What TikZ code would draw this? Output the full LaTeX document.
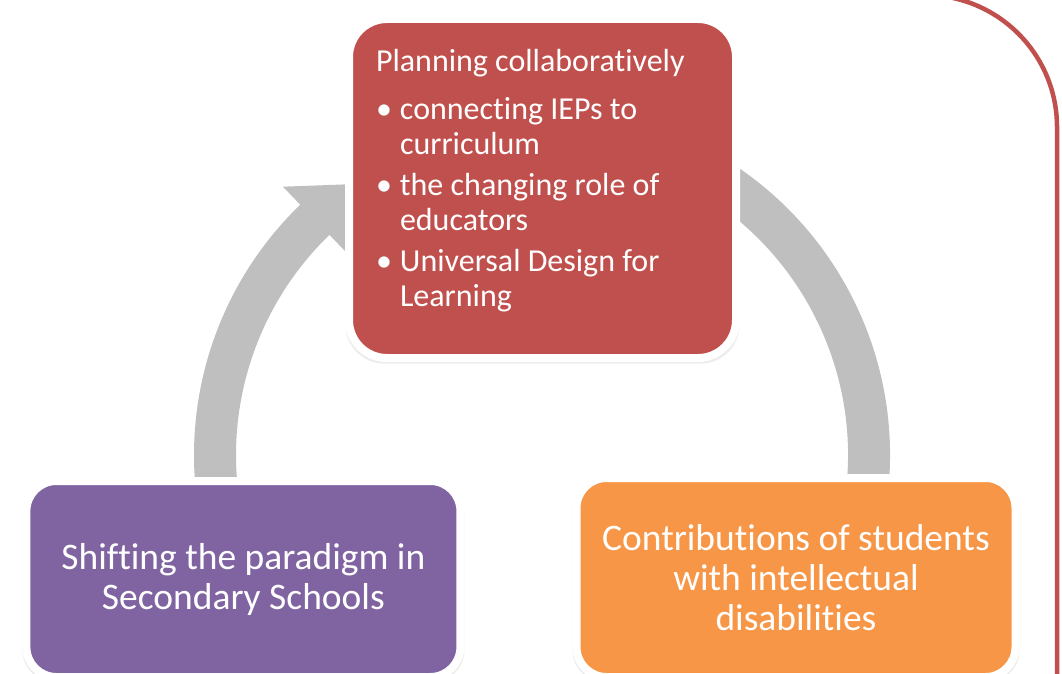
\documentclass[tikz,border=0pt]{standalone}
\usepackage{fontspec}
\setmainfont{Carlito}[Ligatures=NoCommon]
\usetikzlibrary{shadows}

\definecolor{planred}{HTML}{C0504D}
\definecolor{shiftpurple}{HTML}{8064A2}
\definecolor{contriborange}{HTML}{F79646}
\definecolor{cyclegray}{HTML}{BFBFBF}

% one bullet of the planning list, hanging under its first line
\newcommand{\planitem}[1]{\par\vspace{6pt}\hangindent=24pt\hangafter=1\noindent\makebox[24pt][l]{\textbullet}#1\par}

\begin{document}
\begin{tikzpicture}[
  x=1pt, y=1pt,
  stage/.style={draw=white, line width=8pt, text=white, inner sep=0pt,
                general shadow={fill=black, opacity=0.07, shadow scale=1.018, shadow yshift=-2.5pt},
                general shadow={fill=black, opacity=0.1, shadow scale=1.008, shadow xshift=1pt, shadow yshift=-2pt}},
  bigstage/.style={stage, rounded corners=30pt, align=center,
                   font=\fontsize{37.5}{40}\selectfont},
  cycle/.style={cyclegray, line width=42pt},
  frame/.style={planred, line width=4.5pt},
]
  \useasboundingbox (0,0) rectangle (1062,-674);
  \clip (0,0) rectangle (1062,-674);

  % outline of the surrounding frame
  \draw[frame, rounded corners=132pt] (860,5) -| (1057,-700);

  % circular arrow behind the stages
  \coordinate (hub) at (542,-455);
  \begin{scope}[shift={(hub)}]
    \fill[cyclegray] (188:306) arc[start angle=188, end angle=134, radius=306]
      -- (134:281) -- (124:327) -- (134:373) -- (134:348)
      arc[start angle=134, end angle=188, radius=348] -- cycle;
    \draw[cycle] (70:327) arc[start angle=70, end angle=-10, radius=327];
  \end{scope}

  % Top stage
  \node[stage, fill=planred, rounded corners=38pt, inner xsep=27pt, inner ysep=28pt,
        minimum width=387pt, minimum height=339pt,
        font=\fontsize{32}{35}\selectfont] (plan) at (542.5,-188.5)
    {\parbox[t][283pt][t]{333pt}{\raggedright\strut Planning collaboratively\par\vspace{7pt}
      \planitem{connecting IEPs to\newline curriculum}
      \planitem{the changing role of\newline educators}
      \planitem{Universal Design for\newline Learning}}};

  % Bottom stages
  \node[bigstage, fill=shiftpurple, minimum width=434pt, minimum height=196pt]
    (shift) at (243.4,-579) {Shifting the paradigm in\\Secondary Schools};
  \node[bigstage, fill=contriborange, minimum width=439pt, minimum height=199pt]
    (contrib) at (796,-577.5) {Contributions of students\\with intellectual\\disabilities};
\end{tikzpicture}
\end{document}
